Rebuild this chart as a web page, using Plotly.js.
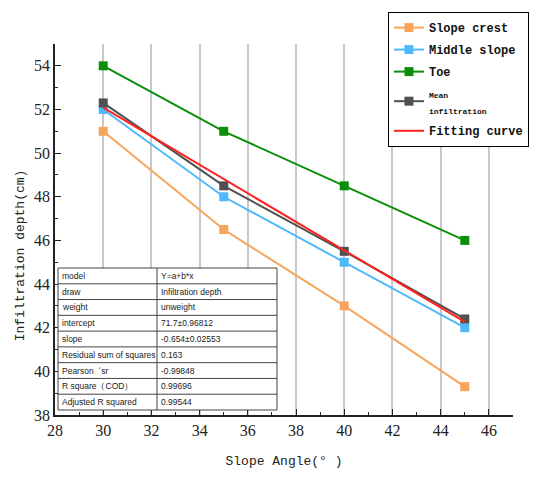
<!DOCTYPE html>
<html>
<head>
<meta charset="utf-8">
<script src="https://cdn.plot.ly/plotly-3.0.1.min.js"></script>
<style>html,body{margin:0;padding:0;background:#fff;}#chart{width:550px;height:482px;}</style>
</head>
<body>
<div id="chart"></div>
<script>
const slopeAngles = [30, 35, 40, 45];
const slopeCrest = [51, 46.5, 43, 39.3];
const middleSlope = [52, 48, 45, 42];
const toe = [54, 51, 48.5, 46];
const meanInfiltration = [52.3, 48.5, 45.5, 42.4];
const fitX = [30, 45];
const fitY = [52.08, 42.27];
const seriesNames = ['Slope crest', 'Middle slope', 'Toe', '<span style="font-size:8px">Mean<br>infiltration</span>', 'Fitting curve'];
const statLabels = ['model', 'draw', 'weight', 'intercept', 'slope', 'Residual sum of squares', 'Pearson  \u00b4sr', 'R square\uff08COD\uff09', 'Adjusted R squared'];
const statValues = ['Y=a+b*x', 'Infiltration depth', 'unweight', '71.7\u00b10.96812', '-0.654\u00b10.02553', '0.163', '-0.99848', '0.99696', '0.99544'];

const colors = ['#f7a55c', '#4fb9fb', '#0a8f0a', '#505050', '#ff2020'];
const ys = [slopeCrest, middleSlope, toe, meanInfiltration];

const traces = ys.map((y, i) => ({
  type: 'scatter', mode: 'lines+markers', x: slopeAngles, y: y,
  name: seriesNames[i], legendgroup: 'g' + i,
  line: {color: colors[i], width: 2},
  marker: {symbol: 'square', size: 9, color: colors[i]}
}));
traces.push({
  type: 'scatter', mode: 'lines', x: fitX, y: fitY, name: seriesNames[4], legendgroup: 'g4',
  line: {color: colors[4], width: 2}
});

// stats table drawn with shapes + annotations (paper coords)
const tX0 = 0.0066, tX1 = 0.4847, tXd = 0.2227, tTop = 0.3962, tBot = 0.0135;
const rowH = (tTop - tBot) / statLabels.length;
const tableLine = {color: '#444', width: 1};
const shapes = [{type: 'rect', xref: 'paper', yref: 'paper', x0: tX0, x1: tX1, y0: tBot, y1: tTop,
  fillcolor: '#fff', line: tableLine, layer: 'above'},
  {type: 'line', xref: 'paper', yref: 'paper', x0: tXd, x1: tXd, y0: tBot, y1: tTop, line: tableLine, layer: 'above'}];
for (let i = 1; i < statLabels.length; i++) {
  const yy = tTop - i * rowH;
  shapes.push({type: 'line', xref: 'paper', yref: 'paper', x0: tX0, x1: tX1, y0: yy, y1: yy, line: tableLine, layer: 'above'});
}
const cellFont = {family: 'Liberation Sans, Arial, sans-serif', size: 8.5, color: '#222'};
const annotations = [];
statLabels.forEach((lab, i) => {
  const yc = tTop - (i + 0.5) * rowH;
  annotations.push({text: lab, xref: 'paper', yref: 'paper', x: tX0 + 0.004, y: yc, xanchor: 'left', yanchor: 'middle', showarrow: false, font: cellFont});
  annotations.push({text: statValues[i], xref: 'paper', yref: 'paper', x: tXd + 0.004, y: yc, xanchor: 'left', yanchor: 'middle', showarrow: false, font: cellFont});
});
annotations.push({
  text: 'Infiltration depth(cm)', textangle: -90, xref: 'paper', yref: 'paper',
  x: -0.076, y: 0.431, showarrow: false, xanchor: 'center', yanchor: 'middle',
  font: {family: 'Liberation Mono, Courier New, monospace', size: 13, color: '#222'}
});

const tickFont = {family: 'Liberation Serif, Times New Roman, serif', size: 16, color: '#222'};
const layout = {
  width: 550, height: 482,
  margin: {l: 55, r: 37, t: 44, b: 67},
  paper_bgcolor: '#fff', plot_bgcolor: '#fff',
  showlegend: true,
  legend: {x: 0.727, y: 1.086, xanchor: 'left', yanchor: 'top',
    bordercolor: '#000', borderwidth: 1, bgcolor: '#fff', tracegroupgap: 3,
    font: {family: 'Liberation Mono, Courier New, monospace', size: 12, color: '#111', weight: 'bold'}},
  xaxis: {range: [28, 47], tick0: 28, dtick: 2, showgrid: true, gridcolor: '#c8c8c8', gridwidth: 1.5,
    showline: true, linecolor: '#222', linewidth: 1.5, zeroline: false,
    ticks: 'inside', ticklen: 6, tickcolor: '#222', tickfont: tickFont,
    minor: {dtick: 1, ticks: 'inside', ticklen: 3, tickcolor: '#222', showgrid: false},
    title: {text: 'Slope Angle(\u00b0 )', font: {family: 'Liberation Mono, Courier New, monospace', size: 13, color: '#222'}, standoff: 18}},
  yaxis: {range: [38, 55], tick0: 38, dtick: 2, showgrid: false,
    showline: true, linecolor: '#222', linewidth: 1.5, zeroline: false,
    ticks: 'inside', ticklen: 6, tickcolor: '#222', tickfont: tickFont,
    minor: {dtick: 1, ticks: 'inside', ticklen: 3, tickcolor: '#222', showgrid: false}},
  shapes: shapes,
  annotations: annotations
};
Plotly.newPlot('chart', traces, layout, {displayModeBar: false});
</script>
</body>
</html>
